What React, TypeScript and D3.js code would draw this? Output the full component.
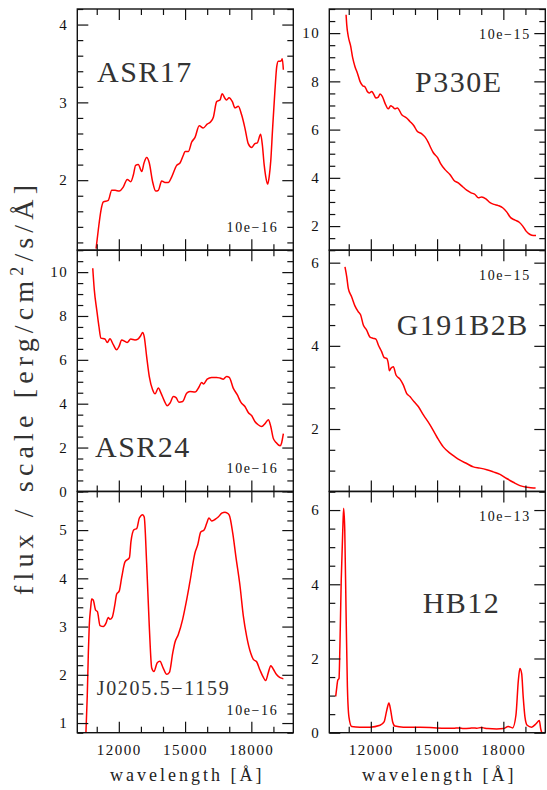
import React, { useEffect, useRef } from "react";
import * as d3 from "d3";

type Pt = [number, number];

// spectra, [wavelength (A), flux / scale]
const asr17: Pt[] = [
  [10970, 1.12], [11070, 1.36], [11190, 1.61], [11300, 1.72], [11520, 1.74], [11680, 1.87],
  [11830, 1.87], [12020, 1.86], [12200, 1.91], [12380, 2.01], [12540, 1.98], [12660, 2.07],
  [12760, 2.19], [12880, 2.2], [13040, 2.11], [13140, 2.22], [13260, 2.29], [13380, 2.22],
  [13530, 1.98], [13670, 1.86], [13790, 1.87], [13940, 1.99], [14090, 1.97], [14240, 1.97],
  [14390, 2.04], [14620, 2.19], [14770, 2.22], [14920, 2.32], [15000, 2.37], [15150, 2.37],
  [15300, 2.49], [15450, 2.55], [15640, 2.7], [15820, 2.67], [16000, 2.72], [16160, 2.75],
  [16280, 2.81], [16430, 3.01], [16580, 3.03], [16680, 3.11], [16810, 3.05], [16880, 3.03],
  [16990, 3.06], [17140, 3.01], [17260, 2.93], [17410, 2.95], [17560, 2.84], [17710, 2.67],
  [17860, 2.47], [18020, 2.42], [18160, 2.47], [18270, 2.48], [18420, 2.59], [18500, 2.45],
  [18580, 2.2], [18650, 2.05], [18740, 1.95], [18810, 2.05], [18880, 2.25], [18960, 2.65],
  [19070, 3.16], [19150, 3.46], [19220, 3.53], [19300, 3.53], [19370, 3.54], [19400, 3.56],
  [19450, 3.42],
];

const p330e: Pt[] = [
  [10880, 10.76], [10910, 10.34], [10980, 9.86], [11090, 9.45], [11180, 8.97], [11280, 8.62],
  [11390, 8.35], [11510, 8.0], [11630, 7.82], [11740, 7.77], [11840, 7.58], [11930, 7.52],
  [12040, 7.58], [12140, 7.45], [12230, 7.31], [12340, 7.35], [12420, 7.48], [12520, 7.38],
  [12640, 7.1], [12790, 6.86], [12900, 6.99], [12990, 6.94], [13090, 6.86], [13200, 6.9],
  [13400, 6.62], [13620, 6.48], [13770, 6.34], [13950, 6.16], [14100, 5.93], [14300, 5.83],
  [14450, 5.7], [14600, 5.47], [14680, 5.31], [14830, 5.04], [15030, 4.83], [15160, 4.59],
  [15360, 4.34], [15580, 4.14], [15770, 3.89], [15960, 3.79], [16160, 3.63], [16340, 3.49],
  [16540, 3.38], [16720, 3.31], [16870, 3.17], [17020, 3.21], [17210, 3.13], [17400, 2.97],
  [17580, 2.9], [17770, 2.85], [17970, 2.76], [18150, 2.59], [18330, 2.35], [18530, 2.25],
  [18720, 2.16], [18880, 2.0], [19030, 1.79], [19210, 1.65], [19360, 1.61], [19480, 1.61],
];

const asr24: Pt[] = [
  [10820, 10.18], [10890, 9.19], [11000, 8.28], [11100, 7.52], [11190, 6.99], [11370, 6.95],
  [11480, 6.79], [11600, 6.96], [11750, 6.69], [11900, 6.46], [12010, 6.61], [12130, 6.91],
  [12280, 6.84], [12380, 6.79], [12540, 6.95], [12730, 6.91], [12880, 6.96], [12990, 7.1],
  [13080, 7.25], [13150, 7.06], [13260, 6.15], [13380, 5.24], [13530, 4.64], [13640, 4.45],
  [13790, 4.71], [13910, 4.48], [14060, 4.13], [14190, 3.91], [14320, 4.03], [14470, 4.33],
  [14590, 4.28], [14720, 4.07], [14890, 4.1], [15070, 4.48], [15220, 4.56], [15450, 4.53],
  [15630, 4.76], [15750, 4.97], [15840, 4.9], [16000, 5.12], [16200, 5.2], [16430, 5.2],
  [16580, 5.17], [16730, 5.12], [16880, 5.24], [17000, 5.2], [17180, 4.71], [17360, 4.41],
  [17530, 4.06], [17710, 3.87], [17860, 3.6], [18020, 3.45], [18160, 3.19], [18310, 3.04],
  [18470, 2.96], [18620, 3.09], [18770, 3.27], [18880, 2.96], [18990, 2.43], [19120, 2.23],
  [19300, 2.08], [19370, 2.21], [19450, 2.63],
];

const g191b2b: Pt[] = [
  [10830, 5.9], [10910, 5.66], [10980, 5.38], [11130, 5.18], [11280, 4.96], [11430, 4.82],
  [11540, 4.74], [11660, 4.5], [11810, 4.38], [11960, 4.21], [12110, 4.18], [12230, 4.16],
  [12340, 4.02], [12490, 3.86], [12600, 3.72], [12720, 3.7], [12790, 3.58], [12840, 3.4],
  [12910, 3.46], [13020, 3.5], [13140, 3.3], [13320, 3.2], [13470, 3.06], [13620, 2.86],
  [13770, 2.78], [13950, 2.66], [14150, 2.54], [14380, 2.34], [14680, 2.1], [14980, 1.82],
  [15280, 1.57], [15580, 1.42], [15810, 1.33], [16040, 1.25], [16340, 1.17], [16640, 1.09],
  [16940, 1.06], [17250, 1.02], [17540, 0.97], [17850, 0.91], [18150, 0.81], [18450, 0.72],
  [18750, 0.64], [19060, 0.6], [19360, 0.58], [19460, 0.58],
];

const j0205: Pt[] = [
  [10510, 0.79], [10570, 1.55], [10620, 2.45], [10660, 3.0], [10730, 3.41], [10770, 3.57],
  [10840, 3.55], [10950, 3.34], [11030, 3.31], [11150, 3.02], [11300, 3.0], [11420, 3.07],
  [11520, 3.19], [11600, 3.15], [11700, 3.19], [11830, 3.48], [11900, 3.67], [12020, 3.74],
  [12130, 4.02], [12280, 4.34], [12480, 4.43], [12550, 4.76], [12690, 5.01], [12810, 5.03],
  [12930, 5.25], [13080, 5.32], [13150, 5.27], [13260, 4.31], [13380, 3.0], [13490, 2.14],
  [13590, 2.07], [13740, 2.25], [13860, 2.28], [14010, 2.14], [14170, 2.01], [14290, 2.05],
  [14440, 2.45], [14540, 2.67], [14690, 2.83], [14890, 3.15], [15040, 3.48], [15220, 3.93],
  [15450, 4.53], [15570, 4.69], [15710, 4.96], [15860, 5.0], [15980, 5.14], [16080, 5.25],
  [16200, 5.19], [16350, 5.22], [16500, 5.27], [16660, 5.35], [16810, 5.37], [16880, 5.36],
  [17000, 5.31], [17160, 4.93], [17300, 4.45], [17490, 3.83], [17640, 3.21], [17790, 2.79],
  [17970, 2.45], [18090, 2.32], [18240, 2.27], [18390, 2.1], [18540, 1.95], [18650, 1.88],
  [18770, 2.05], [18880, 2.19], [18990, 2.12], [19150, 2.0], [19300, 1.94], [19450, 1.92],
];

const hb12: Pt[] = [
  [10410, 0.98], [10460, 1.23], [10500, 1.41], [10560, 1.46], [10600, 2.31], [10660, 4.11],
  [10730, 5.46], [10770, 6.05], [10820, 5.46], [10880, 3.21], [10940, 1.23], [11010, 0.42],
  [11130, 0.17], [11510, 0.15], [11960, 0.15], [12420, 0.2], [12600, 0.29], [12720, 0.6],
  [12820, 0.8], [12900, 0.6], [12990, 0.29], [13090, 0.18], [13470, 0.15], [14230, 0.15],
  [14980, 0.13], [15730, 0.12], [16000, 0.13], [16200, 0.11], [16490, 0.12], [16650, 0.13],
  [16800, 0.12], [17000, 0.14], [17100, 0.13], [17300, 0.11], [17700, 0.1], [18000, 0.11],
  [18220, 0.17], [18420, 0.13], [18570, 0.47], [18680, 1.41], [18750, 1.73], [18830, 1.59],
  [18900, 0.96], [18980, 0.42], [19080, 0.2], [19280, 0.15], [19480, 0.24], [19630, 0.33],
  [19690, 0.11], [19780, -0.05],
];

// panels in reading order: left/right, top to bottom
const spectra = [asr17, p330e, asr24, g191b2b, j0205, hb12];
const panelNames = ["ASR17", "P330E", "ASR24", "G191B2B", "J0205.5\u22121159", "HB12"];
const scaleLabels = ["10e\u221216", "10e\u221215", "10e\u221216", "10e\u221215", "10e\u221216", "10e\u221213"];
const yDomains: [number, number][] = [[1.1, 4.2], [1, 11], [0, 11], [0.5, 6.3], [0.8, 5.8], [0, 6.5]];
const yMajorStep = [1, 2, 2, 2, 1, 2];
const yMinorStep = [0.2, 0.5, 0.5, 0.5, 0.2, 0.5];
const xDomain: [number, number] = [10120, 19900];
const xMajorTicks = [12000, 15000, 18000];
const xMinorTicks = [11000, 13000, 14000, 16000, 17000, 19000];

const W = 547;
const H = 790;
const colX = [77.3, 329.3];
const rowY = [9, 250.2, 491.5];
const PW = 216;
const PH = 241.2;
const FONT = "Liberation Serif, Times New Roman, serif";

// where the star name sits inside each panel
const namePos: [number, number][] = [[19.7, 73], [85.7, 83], [17.7, 206.5], [67.4, 84.8], [19.4, 203.5], [93.4, 121.2]];

const stepTicks = (d: [number, number], step: number) =>
  d3.range(Math.ceil(d[0] / step - 1e-6), Math.floor(d[1] / step + 1e-6) + 1).map((k) => +(k * step).toFixed(4));

const App = () => {
  const ref = useRef<SVGSVGElement>(null);

  useEffect(() => {
    drawChart();
  }, []);

  const drawChart = () => {
    const svg = d3.select(ref.current);
    svg.selectAll("*").remove();

    spectra.forEach((data, i) => {
      const col = i % 2;
      const row = Math.floor(i / 2);
      const x0 = colX[col];
      const y0 = rowY[row];

      const x = d3.scaleLinear().domain(xDomain).range([0, PW]);
      const y = d3.scaleLinear().domain(yDomains[i]).range([PH, 0]);

      const g = svg.append("g").attr("transform", `translate(${x0},${y0})`);

      const clipId = "clip" + i;
      g.append("clipPath").attr("id", clipId)
        .append("rect").attr("width", PW).attr("height", PH);

      const line = d3.line<Pt>()
        .x((d) => x(d[0]))
        .y((d) => y(d[1]))
        .curve(d3.curveMonotoneX);

      g.append("path")
        .datum(data)
        .attr("clip-path", `url(#${clipId})`)
        .attr("fill", "none")
        .attr("stroke", "#ff0000")
        .attr("stroke-width", 1.5)
        .attr("stroke-linejoin", "round")
        .attr("d", line);

      const major = stepTicks(yDomains[i], yMajorStep[i]);
      const minor = stepTicks(yDomains[i], yMinorStep[i])
        .filter((v) => Math.abs(v / yMajorStep[i] - Math.round(v / yMajorStep[i])) > 1e-6);

      const axes: any[] = [];
      const add = (axis: any, tx: number, ty: number) => {
        const a = g.append("g").attr("transform", `translate(${tx},${ty})`).call(axis);
        a.select(".domain").remove();
        axes.push(a);
      };

      add(d3.axisLeft(y).tickValues(major).tickSize(-11).tickPadding(9).tickFormat(d3.format("d")), 0, 0);
      add(d3.axisLeft(y).tickValues(minor).tickSize(-6).tickFormat(() => ""), 0, 0);
      add(d3.axisRight(y).tickValues(major).tickSize(-11).tickFormat(() => ""), PW, 0);
      add(d3.axisRight(y).tickValues(minor).tickSize(-6).tickFormat(() => ""), PW, 0);
      add(d3.axisTop(x).tickValues(xMajorTicks).tickSize(-11).tickFormat(() => ""), 0, 0);
      add(d3.axisTop(x).tickValues(xMinorTicks).tickSize(-6).tickFormat(() => ""), 0, 0);
      const showX = row === 2;
      add(d3.axisBottom(x).tickValues(xMajorTicks).tickSize(-11).tickPadding(12)
        .tickFormat(showX ? d3.format("d") : () => ""), 0, PH);
      add(d3.axisBottom(x).tickValues(xMinorTicks).tickSize(-6).tickFormat(() => ""), 0, PH);

      axes.forEach((a) => {
        a.attr("font-family", FONT).attr("font-size", 15).attr("color", "#111");
        a.selectAll("line").attr("stroke-width", 1.2);
        a.selectAll("text").attr("letter-spacing", 1.5).attr("fill", "#111");
      });

      g.append("rect")
        .attr("width", PW)
        .attr("height", PH)
        .attr("fill", "none")
        .attr("stroke", "#111")
        .attr("stroke-width", 1.4);

      g.append("text")
        .attr("x", namePos[i][0])
        .attr("y", namePos[i][1])
        .attr("font-family", FONT)
        .attr("font-size", i === 4 ? 20 : 30)
        .attr("letter-spacing", i === 4 ? 1.7 : 1.5)
        .attr("fill", "#333")
        .text(panelNames[i]);

      g.append("text")
        .attr("x", col === 0 ? PW - 15 : PW - 14.5)
        .attr("y", col === 0 ? PH - 18 : 29.5)
        .attr("text-anchor", "end")
        .attr("font-family", FONT)
        .attr("font-size", 14)
        .attr("letter-spacing", 1.6)
        .attr("fill", "#111")
        .text(scaleLabels[i]);

      if (showX) {
        svg.append("text")
          .attr("x", x0 + PW / 2 + 2)
          .attr("y", 781)
          .attr("text-anchor", "middle")
          .attr("font-family", FONT)
          .attr("font-size", 18)
          .attr("letter-spacing", 3)
          .attr("fill", "#222")
          .text("wavelength [\u00c5]");
      }
    });

    const title = svg.append("text")
      .attr("transform", "translate(33,390) rotate(-90)")
      .attr("text-anchor", "middle")
      .attr("font-family", FONT)
      .attr("font-size", 28)
      .attr("fill", "#333")
      .attr("textLength", 410)
      .attr("lengthAdjust", "spacing");
    title.append("tspan").text("flux / scale [erg/cm");
    title.append("tspan").attr("dy", -10).attr("font-size", 18).text("2");
    title.append("tspan").attr("dy", 10).text("/s/\u00c5]");
  };

  return (
    <div>
      <svg
        ref={ref}
        width={W}
        height={H}
        style={{ position: "absolute", left: 0, top: 0, background: "#fff" }}
      />
    </div>
  );
};

export default App;
